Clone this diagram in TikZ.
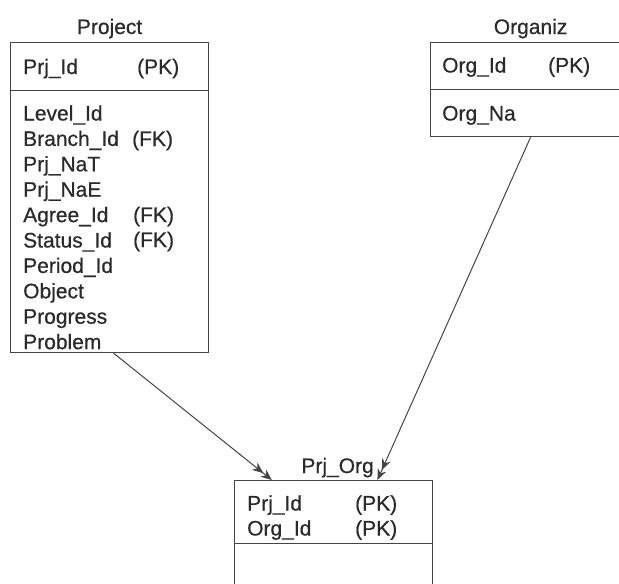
\documentclass[tikz,border=0pt]{standalone}
\usepackage{fontspec}
\setmainfont{Liberation Sans}
\newfontfamily\tblfont{Liberation Sans}[FakeBold=0.6]
\usetikzlibrary{arrows.meta,calc}
\definecolor{txtgray}{HTML}{2A2A2A}
\definecolor{linegray}{HTML}{444444}
\tikzset{
  tbl/.style={draw=linegray, line width=1.2pt, minimum width=198pt, anchor=north west, inner sep=0pt},
  fld/.style={anchor=base west, inner sep=0pt, font=\tblfont\fontsize{21}{25}\selectfont, text=txtgray},
  ttl/.style={anchor=base, inner sep=0pt, font=\tblfont\fontsize{21}{25}\selectfont, text=txtgray},
  rel/.style={draw=linegray, line width=1pt, -{Stealth[length=11pt,width=9pt] Stealth[length=11pt,width=9pt]}}
}
\begin{document}
\begin{tikzpicture}[x=1pt,y=-1pt]
\useasboundingbox (0,0) rectangle (619,584);

% Project table
\node[tbl, minimum height=48pt] (projhead) at (10,42) {};
\node[tbl, minimum height=262pt] (projbody) at (10,90) {};
\node[ttl] (projtitle) at ($(projhead.north)+(0,-8)$) {Project};
\node[fld] (projpk) at (23,74) {Prj\_Id};
\node[fld] at (137,74) {(PK)};
\foreach \f [count=\i from 0] in {Level\_Id,Branch\_Id,Prj\_NaT,Prj\_NaE,Agree\_Id,Status\_Id,Period\_Id,Object,Progress,Problem}
  \node[fld] at (23,120.5+25.4*\i) {\f};
\node[fld] at (132,146) {(FK)};
\node[fld] at (133,222) {(FK)};
\node[fld] at (133,247) {(FK)};

% Organiz table
\node[tbl, minimum width=200pt, minimum height=47pt] (orghead) at (430,42) {};
\node[tbl, minimum width=200pt, minimum height=47pt] (orgbody) at (430,89) {};
\node[ttl] (orgtitle) at ($(orghead.north)+(0,-8)$) {Organiz};
\node[fld] (orgpk) at (442,72.5) {Org\_Id};
\node[fld] at (548,72.5) {(PK)};
\node[fld] (orgname) at (442,120.5) {Org\_Na};

% Prj_Org table
\node[tbl, minimum height=63pt] (pohead) at (234,480) {};
\node[tbl, minimum height=60pt] (pobody) at (234,543) {};
\node[ttl] (potitle) at ($(pohead.north)+(4,-7)$) {Prj\_Org};
\node[fld] (popk1) at (247,510.5) {Prj\_Id};
\node[fld] at (355,510.5) {(PK)};
\node[fld] (popk2) at (247,535.5) {Org\_Id};
\node[fld] at (355,535.5) {(PK)};

% relations
\coordinate (poin1) at ($(pohead.north west)!0.19!(pohead.north east)$);
\coordinate (poin2) at ($(pohead.north west)!0.72!(pohead.north east)$);
\draw[rel] ($(projbody.south)+(4,0)$) -- (poin1);
\draw[rel] (orgbody.south) -- (poin2);
\end{tikzpicture}
\end{document}
